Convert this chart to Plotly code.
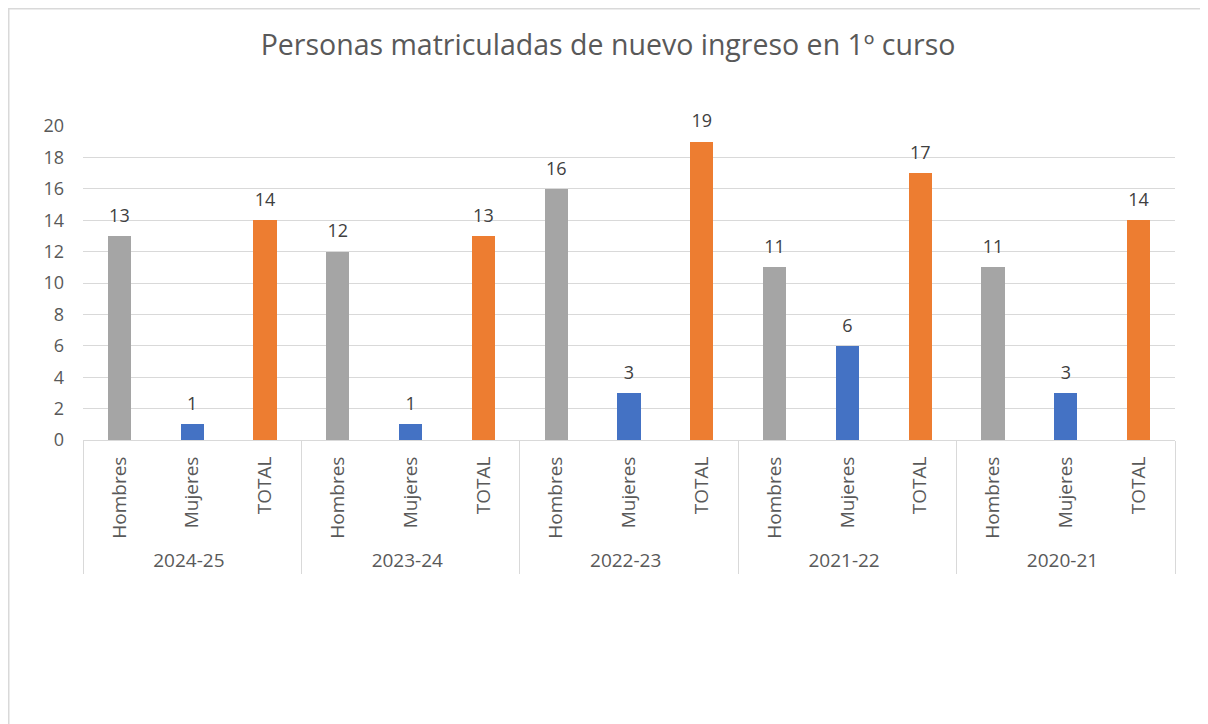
import plotly.graph_objects as go

years = ["2024-25", "2023-24", "2022-23", "2021-22", "2020-21"]
groups = ["Hombres", "Mujeres", "TOTAL"]
hombres = [13, 12, 16, 11, 11]
mujeres = [1, 1, 3, 6, 3]
total = [14, 13, 19, 17, 14]
colors = {"Hombres": "#A5A5A5", "Mujeres": "#4472C4", "TOTAL": "#ED7D31"}
y_ticks = list(range(0, 21, 2))
title = "Personas matriculadas de nuevo ingreso en 1º curso"

outer, inner, vals, cols = [], [], [], []
for i, yr in enumerate(years):
    for g, series in zip(groups, [hombres, mujeres, total]):
        outer.append(yr)
        inner.append(g)
        vals.append(series[i])
        cols.append(colors[g])

FONT = "Open Sans, sans-serif"
W, H = 1200, 716
L, T, PW, PH = 75, 118, 1092, 314

fig = go.Figure()
fig.add_trace(go.Bar(
    x=[outer, inner], y=vals, marker_color=cols, marker_line_width=0,
    width=0.32, hoverinfo="skip",
))
# data labels, lifted above the bars by an invisible marker
fig.add_trace(go.Scatter(
    x=[outer, inner], y=vals, mode="markers+text",
    marker=dict(size=14, color="rgba(0,0,0,0)"),
    text=[str(v) for v in vals], textposition="top center",
    textfont=dict(family=FONT, size=18, color="#404040"), cliponaxis=False,
    hoverinfo="skip",
))

fig.update_layout(
    width=W, height=H,
    margin=dict(l=L, r=W - L - PW, t=T, b=H - T - PH),
    paper_bgcolor="white", plot_bgcolor="white",
    showlegend=False,
    title=dict(text=title, x=0.5, xref="container", xanchor="center",
               y=1 - 37 / H, yanchor="middle",
               font=dict(family=FONT, size=28.5, color="#595959")),
    font=dict(family=FONT, color="#595959"),
    bargap=0,
)
fig.update_yaxes(range=[0, 20], tickvals=y_ticks, showgrid=True, gridcolor="#D9D9D9",
                 gridwidth=1, zeroline=False, showline=False, ticklabelstandoff=18,
                 tickfont=dict(family=FONT, size=18, color="#595959"), ticks="", ticklen=0)
fig.update_xaxes(type="multicategory", range=[-0.5, len(vals) - 0.5], tickangle=-90,
                 showline=True, linecolor="#D9D9D9",
                 showdividers=True, dividercolor="#D9D9D9", dividerwidth=1, ticks="",
                 ticklabelstandoff=8,
                 tickfont=dict(family=FONT, size=19, color="#595959"))

# chart border (left and top visible)
fig.add_shape(type="rect", xref="paper", yref="paper",
              x0=(0.75 - L) / PW, x1=(W + 10 - L) / PW,
              y0=-(H + 10 - T - PH) / PH, y1=(T + PH - 0.75) / PH,
              line=dict(color="#D9D9D9", width=1.5), fillcolor="rgba(0,0,0,0)", layer="below")

fig.write_html("out.html")
